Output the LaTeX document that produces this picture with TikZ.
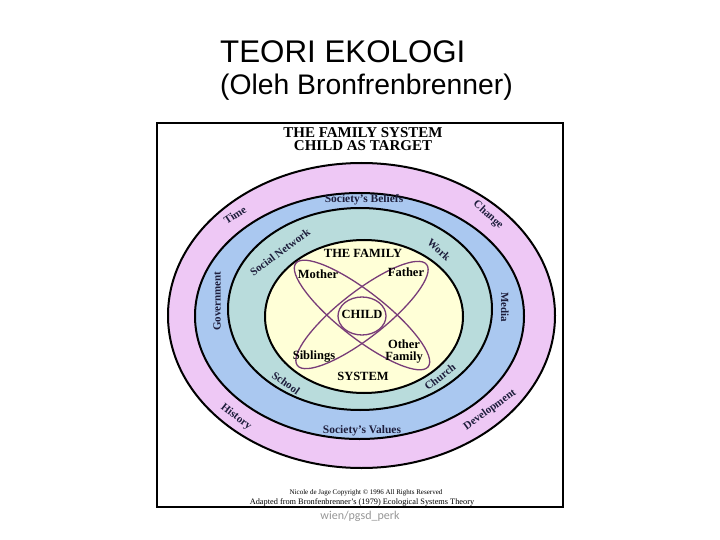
\documentclass[tikz,border=0pt]{standalone}
\usepackage{fontspec}
\setmainfont{Liberation Serif}
\newfontfamily\titlefont{Liberation Sans}
\newfontfamily\notefont{Carlito}
\definecolor{pinkring}{RGB}{238,200,245}
\definecolor{bluering}{RGB}{170,200,240}
\definecolor{tealring}{RGB}{185,220,220}
\definecolor{yellowring}{RGB}{255,255,215}
\definecolor{petalcol}{RGB}{120,60,120}
\definecolor{labelcol}{RGB}{30,30,60}
\definecolor{notecol}{RGB}{150,150,150}
\tikzset{
  ring/.style={draw=black, line width=2pt},
  petal/.style={draw=petalcol, line width=1.3pt},
  lbl/.style={font=\bfseries\fontsize{11}{12}\selectfont, text=labelcol, inner sep=0pt},
  soc/.style={font=\bfseries\fontsize{11.5}{12}\selectfont, text=labelcol, inner sep=0pt},
  fam/.style={font=\bfseries\fontsize{12.5}{14}\selectfont, text=black, inner sep=0pt, align=center},
  head/.style={font=\bfseries\fontsize{15}{16}\selectfont, inner sep=0pt},
  foot/.style={inner sep=0pt},
  ttl/.style={inner sep=0pt, anchor=base west}
}
\begin{document}
\begin{tikzpicture}[x=1pt,y=-1pt]
\useasboundingbox (0,0) rectangle (720,540);
% title
\node[ttl, font=\titlefont\fontsize{31.3}{34}\selectfont] (t1) at (220,63) {TEORI EKOLOGI};
\node[ttl, font=\titlefont\fontsize{28.3}{32}\selectfont] (t2) at (220,95) {(Oleh Bronfrenbrenner)};
% frame
\draw[line width=2.5pt] (157,123) rectangle (563,507);
\node[head] (h1) at (363,133) {THE FAMILY SYSTEM};
\node[head] (h2) at (363,146) {CHILD AS TARGET};
% rings
\draw[ring, fill=pinkring] (361.5,315.5) ellipse [x radius=193.5pt, y radius=152.5pt];
\draw[ring, fill=bluering] (359.5,316) ellipse [x radius=164.5pt, y radius=123pt];
\draw[ring, fill=tealring] (360,309) ellipse [x radius=132pt, y radius=101pt];
\draw[ring, fill=yellowring] (364,316.5) ellipse [x radius=99pt, y radius=76.5pt];
% petals
\draw[petal, rotate around={-38:(362,315)}] (362,315) ellipse [x radius=84pt, y radius=23pt];
\draw[petal, rotate around={38:(362,315)}] (362,315) ellipse [x radius=82pt, y radius=23pt];
\draw[petal, fill=yellowring] (362,316) ellipse [x radius=24pt, y radius=19pt];
% ring labels
\node[soc] (sb) at (364,199.5) {Society's Beliefs};
\node[soc] (sv) at (362,431) {Society's Values};
\node[lbl, rotate=33] (time) at (235,215) {Time};
\node[lbl, rotate=-42] (chg) at (488,215) {Change};
\node[lbl, rotate=90] (gov) at (217,301) {Government};
\node[lbl, rotate=-90] (med) at (505,307) {Media};
\node[lbl, rotate=37] (sn) at (280,252) {Social Network};
\node[lbl, rotate=-42] (work) at (439,250) {Work};
\node[lbl, rotate=-35] (sch) at (286,383) {School};
\node[lbl, rotate=38] (chu) at (440,377) {Church};
\node[lbl, rotate=-38] (his) at (236,417) {History};
\node[lbl, rotate=36] (dev) at (490,410) {Development};
% family labels
\node[fam] (tf) at (363,253) {THE FAMILY};
\node[fam] (mo) at (318,274) {Mother};
\node[fam] (fa) at (406,272) {Father};
\node[fam] (ch) at (362,314) {CHILD};
\node[fam] (sib) at (314,357) {Siblings};
\node[fam] (of) at (404,352) {Other\\[-2pt]Family};
\node[fam] (sys) at (363,376) {SYSTEM};
% footer
\node[foot, font=\fontsize{7}{8}\selectfont] (f1) at (366,493) {Nicole de Jage Copyright \textcopyright{} 1996 All Rights Reserved};
\node[foot, font=\fontsize{8.3}{9}\selectfont] (f2) at (362,502.5) {Adapted from Bronfenbrenner's (1979) Ecological Systems Theory};
\node[font=\notefont\fontsize{12}{13}\selectfont, text=notecol, inner sep=0pt] (wm) at (360,516) {wien/pgsd\_perk};
\end{tikzpicture}
\end{document}
